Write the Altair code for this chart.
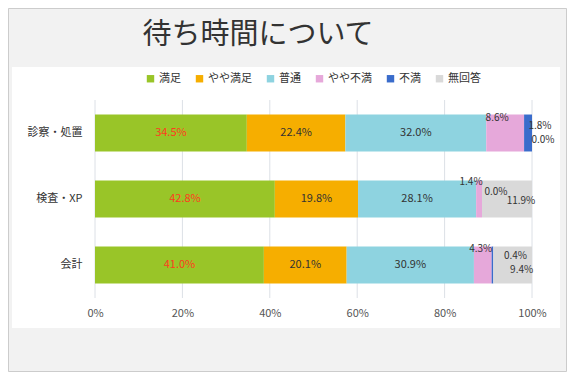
import altair as alt
import pandas as pd

categories = ["診察・処置", "検査・XP", "会計"]
responses = ["満足", "やや満足", "普通", "やや不満", "不満", "無回答"]
values_shinsatsu = [34.5, 22.4, 32.0, 8.6, 1.8, 0.0]
values_kensa = [42.8, 19.8, 28.1, 1.4, 0.0, 11.9]
values_kaikei = [41.0, 20.1, 30.9, 4.3, 0.4, 9.4]
colors = ["#99C528", "#F6AE00", "#8ED3E0", "#E6A8DA", "#3A6CCB", "#D9D9D9"]
x_ticks = [0, 0.2, 0.4, 0.6, 0.8, 1.0]
title_text = "待ち時間について"

# label placement tweaks for narrow segments (dx, dy in px)
label_offsets = {
    ("診察・処置", "やや不満"): (-8, -15),
    ("診察・処置", "不満"): (12, -7),
    ("診察・処置", "無回答"): (11, 7),
    ("検査・XP", "やや不満"): (-8, -17),
    ("検査・XP", "不満"): (14, -7),
    ("検査・XP", "無回答"): (14, 2),
    ("会計", "やや不満"): (-2, -16),
    ("会計", "不満"): (23, -9),
    ("会計", "無回答"): (9, 5),
}

rows = []
for cat, vals in zip(categories, [values_shinsatsu, values_kensa, values_kaikei]):
    for i, (r, v) in enumerate(zip(responses, vals)):
        rows.append({"category": cat, "response": r, "value": v, "order": i,
                     "key": cat + "|" + r})
df = pd.DataFrame(rows)

FONT = "Noto Sans CJK JP"

base = (
    alt.Chart(df)
    .transform_joinaggregate(total="sum(value)", groupby=["category"])
    .transform_calculate(pct="datum.value / datum.total")
    .transform_window(end="sum(pct)", groupby=["category"],
                      sort=[alt.SortField("order")], frame=[None, 0])
    .transform_calculate(start="datum.end - datum.pct",
                         mid="datum.end - datum.pct / 2",
                         label="format(datum.value, '.1f') + '%'")
)

x_scale = alt.Scale(domain=[0, 1], nice=False)

y_enc = alt.Y("category:N", sort=categories, title=None,
              scale=alt.Scale(paddingInner=0.44, paddingOuter=0.22),
              axis=alt.Axis(domain=False, ticks=False, labelPadding=13, zindex=1,
                            labelFontSize=11, labelColor="#333333", labelFont=FONT))

bars = base.mark_bar().encode(
    y=y_enc,
    x=alt.X("start:Q", title=None, scale=x_scale,
            axis=alt.Axis(values=x_ticks, format=".0%", domain=False, ticks=False,
                          grid=False, labelPadding=9, zindex=1, labelFlush=False,
                          labelFontSize=11, labelColor="#555555", labelFont=FONT)),
    x2="end:Q",
    color=alt.Color("response:N", scale=alt.Scale(domain=responses, range=colors),
                    legend=alt.Legend(orient="none", legendX=50, legendY=-27,
                                      direction="horizontal", title=None,
                                      symbolType="square", symbolSize=55,
                                      symbolStrokeWidth=0, labelFontSize=11,
                                      labelFont=FONT, labelColor="#333333",
                                      columnPadding=13, labelOffset=3)),
    order=alt.Order("order:Q"),
)

grid = alt.Chart(pd.DataFrame({"t": x_ticks})).mark_rule(
    color="#DCE0E6", strokeWidth=1).encode(x=alt.X("t:Q", scale=x_scale))

special_keys = [c + "|" + r for (c, r) in label_offsets]
keys_expr = "[" + ",".join("'" + k + "'" for k in special_keys) + "]"

green_labels = base.transform_filter(
    f"datum.response == '満足' && indexof({keys_expr}, datum.key) < 0"
).mark_text(fontSize=11, font=FONT, color="#FF3B1F").encode(
    x="mid:Q", y=alt.Y("category:N", sort=categories), text="label:N")

other_labels = base.transform_filter(
    f"datum.response != '満足' && indexof({keys_expr}, datum.key) < 0"
).mark_text(fontSize=11, font=FONT, color="#333333").encode(
    x="mid:Q", y=alt.Y("category:N", sort=categories), text="label:N")

small_layers = []
for (c, r), (dx, dy) in label_offsets.items():
    k = c + "|" + r
    small_layers.append(
        base.transform_filter(f"datum.key == '{k}'")
        .mark_text(fontSize=10, font=FONT, color="#333333", dx=dx, dy=dy)
        .encode(x="mid:Q", y=alt.Y("category:N", sort=categories), text="label:N")
    )

one = pd.DataFrame({"a": [0]})
panel = alt.Chart(one).mark_rect(color="white").encode(
    x=alt.value(-83), x2=alt.value(465), y=alt.value(-33), y2=alt.value(228))
border = alt.Chart(one).mark_rect(fill="#F2F2F2", stroke="#CCCCCC", strokeWidth=1).encode(
    x=alt.value(-86.5), x2=alt.value(471.5), y=alt.value(-91.5), y2=alt.value(271.5))
title = alt.Chart(one).mark_text(text=title_text, fontSize=29, font=FONT,
                                 color="#333333").encode(
    x=alt.value(163), y=alt.value(-65))

chart = alt.layer(border, panel, title, grid, bars, green_labels, other_labels,
                  *small_layers).properties(
    width=437, height=198,
    autosize=alt.AutoSizeParams(type="none"),
    padding={"left": 87, "top": 92, "right": 35, "bottom": 74},
    background="#F2F2F2",
).configure_view(stroke=None)

chart.save("out.html", embed_options={"renderer": "svg", "actions": False})
